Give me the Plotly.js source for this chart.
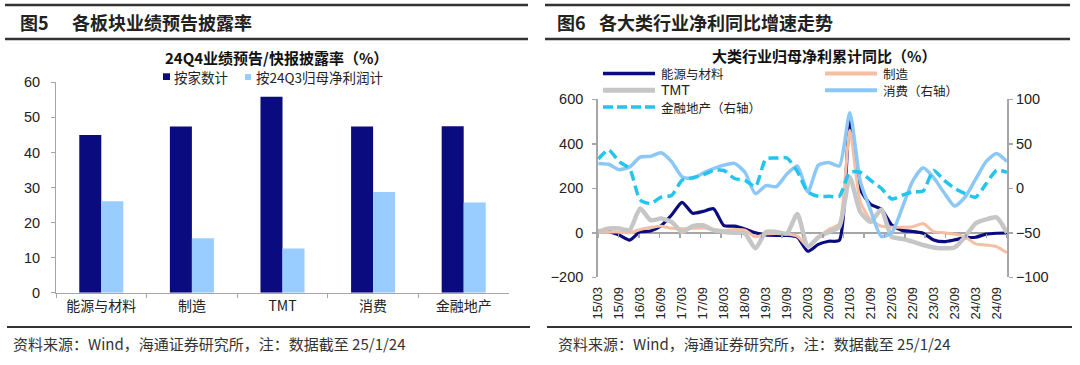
<!DOCTYPE html>
<html>
<head>
<meta charset="utf-8">
<script src="https://cdn.plot.ly/plotly-3.0.1.min.js"></script>
<style>
  html, body { margin: 0; padding: 0; background: #ffffff; }
  #chart { width: 1080px; height: 365px; }
</style>
</head>
<body>
<div id="chart"></div>
<script>
// ---------------- DATA ----------------
// Figure 5: 24Q4 disclosure rate by sector (%)
const sectorCategories = ['能源与材料', '制造', 'TMT', '消费', '金融地产'];
const rateByCompanyCount = [45.0, 47.4, 55.9, 47.4, 47.5];
const rateBy24Q3NetProfit = [26.1, 15.5, 12.6, 28.7, 25.7];

// Figure 6: cumulative YoY of net profit attributable to parent (%)
const quarters = [
  '15/03','15/06','15/09','15/12','16/03','16/06','16/09','16/12',
  '17/03','17/06','17/09','17/12','18/03','18/06','18/09','18/12',
  '19/03','19/06','19/09','19/12','20/03','20/06','20/09','20/12',
  '21/03','21/06','21/09','21/12','22/03','22/06','22/09','22/12',
  '23/03','23/06','23/09','23/12','24/03','24/06','24/09','24/12'
];
const quarterTickLabels = ['15/03','15/09','16/03','16/09','17/03','17/09','18/03','18/09','19/03','19/09',
  '20/03','20/09','21/03','21/09','22/03','22/09','23/03','23/09','24/03','24/09'];
const energyMaterials = [9, 5, -10, -33, 5, 8, 32, 80, 137, 88, 96, 108, 32, 30, 17, 0, -10, -12, -12, -20,
  -83, -52, -38, -34, 499, 196, 127, 107, 35, 11, 6, -2, -32, -40, -32, -22, -20, -6, -2, -1];
const manufacturing = [4, 3, 3, 0, 15, 24, 30, 20, 18, 20, 22, 15, 10, 15, 12, -18, -5, -3, -5, -15,
  -62, -20, 15, 40, 461, 140, 57, 30, 25, 25, 27, 42, 5, 0, -6, -18, -50, -55, -62, -90];
const tmt = [4, 19, 19, 12, 109, 57, 64, 49, 4, 30, 34, 12, 4, 0, -3, -70, 4, 4, -3, 85,
  -62, -20, 4, 27, 250, 94, 49, 105, -18, -27, -40, -55, -66, -70, -66, -18, 42, 60, 69, 0];
const consumerRight = [28, 27, 21, 24, 35, 36, 40, 30, 13, 11, 17, 22, 26, 28, 18, -6, 3, 2, 16, 25,
  -4, 26, 29, 25, 85, 8, -25, -54, -50, -22, 8, 23, 12, -5, -20, -10, 10, 30, 39, 30];
const financeRealEstateRight = [33, 43, 30, 22, -13, -17, -10, -8, 9, 12, 15, 20, 20, 11, 9, 2, 33, 34, 34, 19,
  -4, -9, -9, -9, 18, 18, 9, 0, -12, -8, -4, -3, 20, 9, 0, -6, -10, 5, 20, 18];

// ---------------- HELPERS ----------------
const W = 1080, H = 365;
const px = x => x / W;
const py = y => 1 - y / H;
const CJK = '"Noto Sans CJK SC", "Noto Sans", sans-serif';
const LAT = '"Liberation Sans", Arial, "DejaVu Sans", sans-serif';
const AXC = '#A6A6A6';

const navy = '#0B0B80';
const lightBar = '#99CCFF';
const peach = '#F6BEA2';
const gray = '#C6C6C6';
const skyLine = '#8CC8F6';
const cyanDash = '#22C4F0';

// ---------------- TRACES ----------------
const traces = [
  { type: 'bar', name: '按家数计', x: sectorCategories, y: rateByCompanyCount,
    xaxis: 'x', yaxis: 'y', marker: { color: navy }, hoverinfo: 'skip' },
  { type: 'bar', name: '按24Q3归母净利润计', x: sectorCategories, y: rateBy24Q3NetProfit,
    xaxis: 'x', yaxis: 'y', marker: { color: lightBar }, hoverinfo: 'skip' },

  { type: 'scatter', mode: 'lines', name: '能源与材料', x: quarters, y: energyMaterials,
    xaxis: 'x2', yaxis: 'y2', line: { color: navy, width: 3.2, shape: 'spline', smoothing: 0.6 } },
  { type: 'scatter', mode: 'lines', name: '制造', x: quarters, y: manufacturing,
    xaxis: 'x2', yaxis: 'y2', line: { color: peach, width: 3, shape: 'spline', smoothing: 0.6 } },
  { type: 'scatter', mode: 'lines', name: 'TMT', x: quarters, y: tmt,
    xaxis: 'x2', yaxis: 'y2', line: { color: gray, width: 4.5, shape: 'spline', smoothing: 0.6 } },
  { type: 'scatter', mode: 'lines', name: '消费（右轴）', x: quarters, y: consumerRight,
    xaxis: 'x2', yaxis: 'y3', line: { color: skyLine, width: 3.5, shape: 'spline', smoothing: 0.6 } },
  { type: 'scatter', mode: 'lines', name: '金融地产（右轴）', x: quarters, y: financeRealEstateRight,
    xaxis: 'x2', yaxis: 'y3', line: { color: cyanDash, width: 3.5, dash: '10px,5px', shape: 'spline', smoothing: 0.6 } },
  // carrier for the tick-mark axis sitting on the zero line
  { type: 'scatter', mode: 'lines', x: [], y: [], xaxis: 'x3', yaxis: 'y2', showlegend: false, hoverinfo: 'skip' }
];

// ---------------- LAYOUT ----------------
const shapes = [];
const annotations = [];
function hline(x0, x1, y, color, width, dash) {
  shapes.push({ type: 'line', xref: 'paper', yref: 'paper', x0: px(x0), x1: px(x1), y0: py(y), y1: py(y),
    line: { color: color, width: width, dash: dash || 'solid' } });
}
function text(x, y, t, size, opts) {
  opts = opts || {};
  annotations.push(Object.assign({ xref: 'paper', yref: 'paper', x: px(x), y: py(y), text: t, showarrow: false,
    xanchor: 'left', yanchor: 'middle', borderpad: 0, font: { family: CJK, size: size, color: '#222' } }, opts));
}

// Panel frames
hline(5, 528, 5, '#333', 2.5);
hline(5, 528, 39, '#333', 2.5);
hline(7, 530, 327, '#333', 2);
hline(545, 1070, 5, '#333', 2.5);
hline(545, 1070, 39, '#333', 2.5);
hline(547, 1072, 327, '#333', 2);

// Headers
text(19, 22, '<b>图5</b>', 18);
text(71, 22, '<b>各板块业绩预告披露率</b>', 18);
text(556, 22, '<b>图6</b>', 18);
text(598, 22, '<b>各大类行业净利同比增速走势</b>', 18);

// Footers
const footerFont = { family: CJK, size: 15, color: '#333' };
text(12, 343, '资料来源：Wind，海通证券研究所，注：数据截至 25/1/24', 15, { font: footerFont });
text(557, 343, '资料来源：Wind，海通证券研究所，注：数据截至 25/1/24', 15, { font: footerFont });

// Chart titles
text(276, 57.5, '<b>24Q4业绩预告/快报披露率（%）</b>', 15, { xanchor: 'center', font: { family: CJK, size: 15, color: '#111' } });
text(824, 55.5, '<b>大类行业归母净利累计同比（%）</b>', 15, { xanchor: 'center', font: { family: CJK, size: 15, color: '#111' } });

// Left legend (squares + text)
shapes.push({ type: 'rect', xref: 'paper', yref: 'paper', x0: px(163), x1: px(170), y0: py(80), y1: py(73.3),
  fillcolor: navy, line: { width: 0 } });
text(173, 76.7, '按家数计', 13.5);
shapes.push({ type: 'rect', xref: 'paper', yref: 'paper', x0: px(245), x1: px(251), y0: py(80), y1: py(74),
  fillcolor: lightBar, line: { width: 0 } });
text(255, 76.7, '按24Q3归母净利润计', 13.5);

// Right legend (line samples + text)
const r1 = 73.5, r2 = 90.3, r3 = 107;
const legFont = { family: CJK, size: 12.5, color: '#222' };
hline(603, 655, r1, navy, 3.5);
text(660, r1, '能源与材料', 12.5, { font: legFont });
hline(825, 877, r1, peach, 4);
text(882, r1, '制造', 12.5, { font: legFont });
hline(603, 655, r2, gray, 5);
text(660, r2, 'TMT', 14, { font: { family: LAT, size: 14, color: '#222' } });
hline(825, 877, r2, skyLine, 4);
text(882, r2, '消费（右轴）', 12.5, { font: legFont });
hline(603, 655, r3, cyanDash, 3.5, '10px,4px');
text(660, r3, '金融地产（右轴）', 12.5, { font: legFont });

// zero-line tick positions (between category pairs)
const zeroTickVals = [];
for (let k = 0; k <= 20; k++) zeroTickVals.push(-0.5 + 2 * k);

const layout = {
  width: W, height: H,
  margin: { l: 0, r: 0, t: 0, b: 0, pad: 0 },
  paper_bgcolor: '#ffffff', plot_bgcolor: 'rgba(0,0,0,0)',
  showlegend: false,
  barmode: 'group', bargap: 0.514, bargroupgap: 0,
  font: { family: LAT, size: 14, color: '#222' },
  xaxis: {
    domain: [px(56), px(509)], anchor: 'y', type: 'category',
    showline: true, linecolor: AXC, linewidth: 1,
    ticks: 'outside', tickson: 'boundaries', ticklen: 4, tickcolor: AXC, tickwidth: 1,
    showgrid: false, zeroline: false,
    tickfont: { family: CJK, size: 14, color: '#222' }
  },
  yaxis: {
    domain: [py(292.7), py(82.3)], anchor: 'x', range: [0, 60], dtick: 10,
    showline: true, linecolor: AXC, linewidth: 1,
    ticks: 'outside', ticklen: 4, tickcolor: AXC, ticklabelstandoff: 8,
    showgrid: false, zeroline: false,
    tickfont: { family: LAT, size: 14.5, color: '#222' }
  },
  xaxis2: {
    domain: [px(598.2), px(1007)], anchor: 'y2', type: 'category',
    tickvals: quarterTickLabels, ticktext: quarterTickLabels,
    tickangle: -90, ticks: '', showline: false, showgrid: false, zeroline: false,
    ticklabelstandoff: 6,
    tickfont: { family: LAT, size: 13, color: '#222' }
  },
  xaxis3: {
    overlaying: 'x2', anchor: 'free', position: py(232.7), range: [-0.5, 39.5],
    tickvals: zeroTickVals, showticklabels: false, ticks: 'outside', ticklen: 4, tickwidth: 1.5,
    tickcolor: AXC, showline: false, showgrid: false, zeroline: false
  },
  yaxis2: {
    domain: [py(277.3), py(99.3)], anchor: 'x2', range: [-200, 600], dtick: 200,
    showline: true, linecolor: AXC, linewidth: 2,
    ticks: 'outside', ticklen: 4, tickwidth: 1.5, tickcolor: AXC, ticklabelstandoff: 6,
    showgrid: false, zeroline: true, zerolinecolor: AXC, zerolinewidth: 2,
    tickfont: { family: LAT, size: 14.5, color: '#222' }
  },
  yaxis3: {
    overlaying: 'y2', side: 'right', anchor: 'x2', range: [-100, 100], dtick: 50,
    showline: true, linecolor: AXC, linewidth: 2,
    ticks: 'outside', ticklen: 4, tickwidth: 1.5, tickcolor: AXC, ticklabelstandoff: 0,
    showgrid: false, zeroline: false,
    tickfont: { family: LAT, size: 14.5, color: '#222' }
  },
  shapes: shapes,
  annotations: annotations
};

Plotly.newPlot('chart', traces, layout, { staticPlot: true, displayModeBar: false });
</script>
</body>
</html>
